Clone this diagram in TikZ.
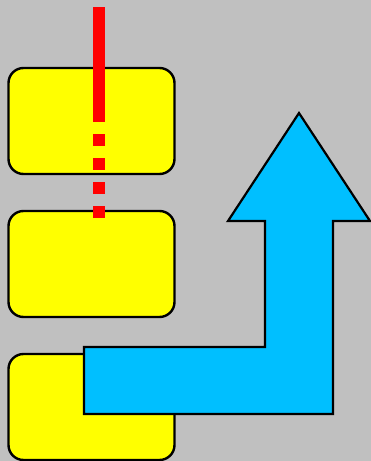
\documentclass[tikz,border=0pt]{standalone}
\usepackage{tikz}
\usetikzlibrary{positioning}

\definecolor{bggray}{HTML}{C0C0C0}
\definecolor{skyfill}{HTML}{00BFFF}
\definecolor{boxyellow}{HTML}{FFFF00}

\begin{document}
\begin{tikzpicture}[x=1pt, y=-1pt, line join=miter,
    ybox/.style={draw=black, line width=2.4pt, fill=boxyellow, rounded corners=15pt,
      minimum width=166pt, minimum height=106pt, inner sep=0pt, outer sep=0pt}]
  % background and fixed margins
  \fill[bggray] (0,0) rectangle (371,461);
  \useasboundingbox (0,0) rectangle (371,461);
  % three stacked boxes
  \node[ybox] (top) at (91.5,121) {};
  \node[ybox, below=37pt of top] (mid) {};
  \node[ybox, below=37pt of mid] (bot) {};
  % red marker: solid, then dashed
  \coordinate (rstart) at (99,7);
  \coordinate (rsplit) at (99,122);
  \coordinate (rend) at (99,219);
  \draw[red, line width=12pt] (rstart) -- (rsplit);
  \draw[red, line width=12pt, dash pattern=on 12pt off 12pt, dash phase=12pt] (rsplit) -- (rend);
  % bent arrow
  \draw[fill=skyfill, line width=2.2pt]
    (84,347) -- (265,347) -- (265,221) -- (228,221) -- (299,113)
    -- (370,221) -- (333,221) -- (333,414) -- (84,414) -- cycle;
\end{tikzpicture}
\end{document}
